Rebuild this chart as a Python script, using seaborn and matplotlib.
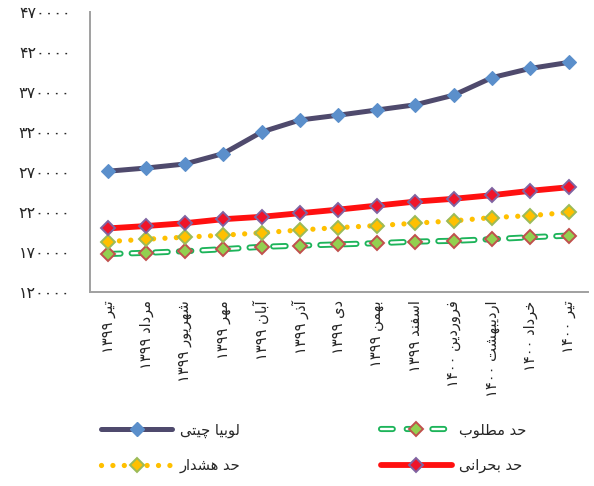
import matplotlib
matplotlib.use("Agg")
import matplotlib.pyplot as plt
from matplotlib.lines import Line2D
from matplotlib.legend_handler import HandlerTuple
import seaborn as sns
import pandas as pd

# ---------------- data ----------------
months = ["تیر ۱۳۹۹", "مرداد ۱۳۹۹", "شهریور ۱۳۹۹", "مهر ۱۳۹۹", "آبان ۱۳۹۹",
          "آذر ۱۳۹۹", "دی ۱۳۹۹", "بهمن ۱۳۹۹", "اسفند ۱۳۹۹", "فروردین ۱۴۰۰",
          "اردیبهشت ۱۴۰۰", "خرداد ۱۴۰۰", "تیر ۱۴۰۰"]
lobia = [271000, 275000, 280000, 293000, 320000, 335000, 341000,
         347500, 354000, 366000, 388000, 399500, 407000]
motlub = [167500, 169000, 171000, 173500, 176500, 178000, 179500,
          181000, 183000, 184000, 186000, 188500, 190500]
hoshdar = [183000, 186000, 188500, 191000, 194000, 197500, 200500,
           203000, 206000, 209000, 213000, 215500, 219500]
bohrani = [199500, 202500, 206000, 211000, 214000, 218500, 223000,
           228000, 233000, 236500, 241000, 246500, 251000]
series_names = ["لوبیا چیتی", "حد مطلوب", "حد هشدار", "حد بحرانی"]
y_ticks = [120000, 170000, 220000, 270000, 320000, 370000, 420000, 470000]

# ------------- simple Persian shaping (matplotlib has no RTL/shaping) -------------
FORMS = {
    'ا': (0xFE8D, 0xFE8E, None, None), 'آ': (0xFE81, 0xFE82, None, None),
    'ب': (0xFE8F, 0xFE90, 0xFE91, 0xFE92), 'پ': (0xFB56, 0xFB57, 0xFB58, 0xFB59),
    'ت': (0xFE95, 0xFE96, 0xFE97, 0xFE98), 'چ': (0xFB7A, 0xFB7B, 0xFB7C, 0xFB7D),
    'ح': (0xFEA1, 0xFEA2, 0xFEA3, 0xFEA4), 'خ': (0xFEA5, 0xFEA6, 0xFEA7, 0xFEA8),
    'د': (0xFEA9, 0xFEAA, None, None), 'ذ': (0xFEAB, 0xFEAC, None, None),
    'ر': (0xFEAD, 0xFEAE, None, None), 'ز': (0xFEAF, 0xFEB0, None, None),
    'س': (0xFEB1, 0xFEB2, 0xFEB3, 0xFEB4), 'ش': (0xFEB5, 0xFEB6, 0xFEB7, 0xFEB8),
    'ط': (0xFEC1, 0xFEC2, 0xFEC3, 0xFEC4), 'ف': (0xFED1, 0xFED2, 0xFED3, 0xFED4),
    'ل': (0xFEDD, 0xFEDE, 0xFEDF, 0xFEE0), 'م': (0xFEE1, 0xFEE2, 0xFEE3, 0xFEE4),
    'ن': (0xFEE5, 0xFEE6, 0xFEE7, 0xFEE8), 'ه': (0xFEE9, 0xFEEA, 0xFEEB, 0xFEEC),
    'و': (0xFEED, 0xFEEE, None, None), 'ی': (0xFBFC, 0xFBFD, 0xFBFE, 0xFBFF),
}


def shape_word(w):
    out = []
    for i, c in enumerate(w):
        f = FORMS.get(c)
        if f is None:
            out.append(c)
            continue
        prev = w[i - 1] if i > 0 else None
        nxt = w[i + 1] if i < len(w) - 1 else None
        jp = prev in FORMS and FORMS[prev][2] is not None
        jn = nxt in FORMS and f[2] is not None
        if jp and jn:
            code = f[3]
        elif jp:
            code = f[1]
        elif jn:
            code = f[2]
        else:
            code = f[0]
        out.append(chr(code))
    return "".join(out)


def rtl(text):
    vis = []
    for t in text.split(" "):
        if t and all('\u06F0' <= ch <= '\u06F9' for ch in t):
            vis.append(t)
        else:
            vis.append(shape_word(t)[::-1])
    return " ".join(vis[::-1])


def fa_digits(v):
    return str(int(v)).translate(str.maketrans("0123456789", "۰۱۲۳۴۵۶۷۸۹"))


# ---------------- style ----------------
sns.set_theme(style="white")
plt.rcParams["font.family"] = ["DejaVu Sans"]
plt.rcParams["lines.scale_dashes"] = False
TXT = "#262626"

df = pd.DataFrame({"month": months * 4,
                   "value": lobia + motlub + hoshdar + bohrani,
                   "series": sum([[s] * len(months) for s in series_names], [])})

fig = plt.figure(figsize=(5.94, 4.86), dpi=100)
ax = fig.add_axes([90 / 594, 1 - 292 / 486, (588 - 90) / 594, (292 - 12) / 486])


def sub(name):
    return df[df["series"] == name]


GREEN_DASH = (9, 8)
# lobia chiti
sns.lineplot(data=sub(series_names[0]), x="month", y="value", ax=ax, sort=False,
             color="#4F4A6D", lw=3.6, marker="D", markersize=7,
             markerfacecolor="#5B8FCB", markeredgecolor="#5B8FCB", markeredgewidth=0.8,
             legend=False)
# hadd-e motlub (hollow green dashes)
sns.lineplot(data=sub(series_names[1]), x="month", y="value", ax=ax, sort=False,
             color="#1DB45A", lw=4.4, dashes=GREEN_DASH, dash_capstyle="round",
             legend=False)
sns.lineplot(data=sub(series_names[1]), x="month", y="value", ax=ax, sort=False,
             color="white", lw=1.7, dashes=GREEN_DASH, dash_capstyle="round",
             legend=False)
sns.lineplot(data=sub(series_names[1]), x="month", y="value", ax=ax, sort=False,
             linestyle="", marker="D", markersize=6.8,
             markerfacecolor="#92D050", markeredgecolor="#C0504D", markeredgewidth=1.4,
             legend=False)
# hadd-e hoshdar (yellow dots)
sns.lineplot(data=sub(series_names[2]), x="month", y="value", ax=ax, sort=False,
             color="#FFC000", lw=3.8, dashes=(0.01, 8.2), dash_capstyle="round",
             marker="D", markersize=6.8,
             markerfacecolor="#FFC000", markeredgecolor="#9BBB59", markeredgewidth=1.4,
             legend=False)
# hadd-e bohrani (red)
sns.lineplot(data=sub(series_names[3]), x="month", y="value", ax=ax, sort=False,
             color="#FF1010", lw=4.2, marker="D", markersize=6.8,
             markerfacecolor="#F0142A", markeredgecolor="#8064A2", markeredgewidth=1.4,
             legend=False)

# ---------------- axes ----------------
ax.set_xlim(-0.47, len(months) - 0.5)
ax.set_ylim(y_ticks[0], y_ticks[-1])
ax.set_xticks(range(len(months)))
ax.set_xticklabels([rtl(m) for m in months], rotation=90, fontsize=10.5, color=TXT)
ax.set_yticks(y_ticks)
ax.set_yticklabels([fa_digits(v) for v in y_ticks], fontsize=11.5, color=TXT)
ax.tick_params(axis="y", length=0, pad=14)
ax.tick_params(axis="x", length=0, pad=6)
ax.set_xlabel("")
ax.set_ylabel("")
for s in ["top", "right"]:
    ax.spines[s].set_visible(False)
for s in ["left", "bottom"]:
    ax.spines[s].set_color("#A0A0A0")
    ax.spines[s].set_linewidth(1.4)
ax.grid(False)

# ---------------- legend ----------------
LEG_DASH = (8.5, 10)
h_lobia = Line2D([], [], color="#4F4A6D", lw=3.6, marker="D", markersize=7,
                 markerfacecolor="#5B8FCB", markeredgecolor="#5B8FCB", solid_capstyle="round")
h_mot = (Line2D([], [], color="#1DB45A", lw=4.4, dashes=LEG_DASH, dash_capstyle="round"),
         Line2D([], [], color="white", lw=1.7, dashes=LEG_DASH, dash_capstyle="round"),
         Line2D([], [], linestyle="", marker="D", markersize=6.8,
                markerfacecolor="#92D050", markeredgecolor="#C0504D", markeredgewidth=1.4))
h_hosh = Line2D([], [], color="#FFC000", lw=3.8, dashes=(0.01, 8.2), dash_capstyle="round",
                marker="D", markersize=6.8, markerfacecolor="#FFC000",
                markeredgecolor="#9BBB59", markeredgewidth=1.4)
h_bohr = Line2D([], [], color="#FF1010", lw=4.2, marker="D", markersize=6.8,
                markerfacecolor="#F0142A", markeredgecolor="#8064A2", markeredgewidth=1.4,
                solid_capstyle="round")
leg = fig.legend([h_lobia, h_hosh, h_mot, h_bohr],
                 [rtl(series_names[0]), rtl(series_names[2]),
                  rtl(series_names[1]), rtl(series_names[3])],
                 handler_map={tuple: HandlerTuple(ndivide=1, pad=0)},
                 ncol=2, loc="upper left", bbox_to_anchor=(0.148, 0.158),
                 frameon=False, fontsize=10.5, handlelength=4.9, handletextpad=0.5,
                 columnspacing=9.6, labelspacing=1.4, numpoints=1, labelcolor=TXT)

fig.savefig("out.png", dpi=100)
